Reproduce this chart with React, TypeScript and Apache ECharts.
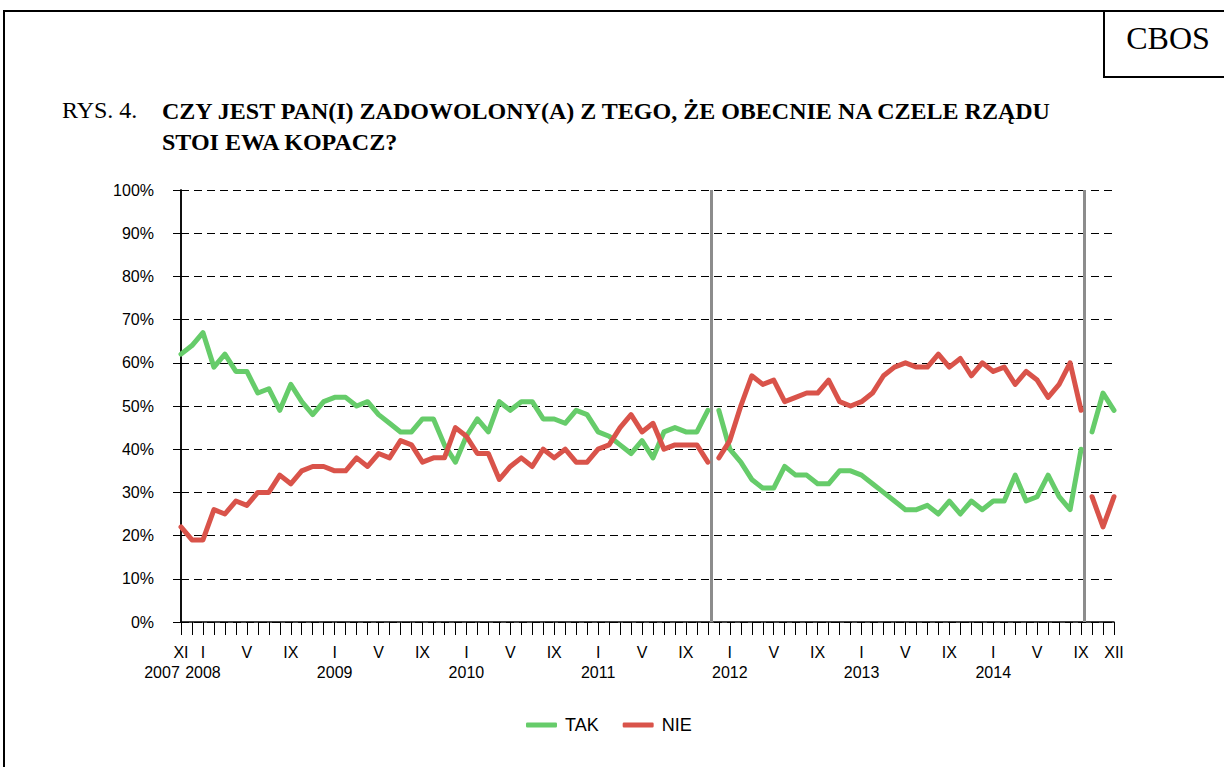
import React, { useEffect, useRef } from 'react';
import * as echarts from 'echarts';

// Monthly surveys, XI 2007 (index 0) ... XII 2014 (index 85)
const TAK = [
  62, 64, 67, 59, 62, 58, 58, 53, 54, 49, 55, 51, 48, 51, 52, 52, 50, 51, 48, 46,
  44, 44, 47, 47, 41, 37, 43, 47, 44, 51, 49, 51, 51, 47, 47, 46, 49, 48, 44, 43,
  41, 39, 42, 38, 44, 45, 44, 44, 49, 49, 40, 37, 33, 31, 31, 36, 34, 34, 32, 32,
  35, 35, 34, 32, 30, 28, 26, 26, 27, 25, 28, 25, 28, 26, 28, 28, 34, 28, 29, 34,
  29, 26, 40, 44, 53, 49,
];
const NIE = [
  22, 19, 19, 26, 25, 28, 27, 30, 30, 34, 32, 35, 36, 36, 35, 35, 38, 36, 39, 38,
  42, 41, 37, 38, 38, 45, 43, 39, 39, 33, 36, 38, 36, 40, 38, 40, 37, 37, 40, 41,
  45, 48, 44, 46, 40, 41, 41, 41, 37, 38, 42, 50, 57, 55, 56, 51, 52, 53, 53, 56,
  51, 50, 51, 53, 57, 59, 60, 59, 59, 62, 59, 61, 57, 60, 58, 59, 55, 58, 56, 52,
  55, 60, 49, 29, 22, 29,
];
// Government periods (first and last month index of each)
const segments = [
  [0, 48],
  [49, 82],
  [83, 85],
];
const separators = [48.35, 82.27];

const monthTickIdx = [0, 2, 6, 10, 14, 18, 22, 26, 30, 34, 38, 42, 46, 50, 54, 58, 62, 66, 70, 74, 78, 82, 85];
const monthTickLabels = ['XI', 'I', 'V', 'IX', 'I', 'V', 'IX', 'I', 'V', 'IX', 'I', 'V', 'IX', 'I', 'V', 'IX', 'I', 'V', 'IX', 'I', 'V', 'IX', 'XII'];
const yearTickIdx = [0, 2, 14, 26, 38, 50, 62, 74];
const yearTickLabels = ['2007', '2008', '2009', '2010', '2011', '2012', '2013', '2014'];

const seriesNames = ['TAK', 'NIE'];
const seriesValues = [TAK, NIE];
const seriesColors = ['#66CC6A', '#D9534A'];

const SANS = '"Liberation Sans", Arial, sans-serif';
const SERIF = '"Liberation Serif", "Times New Roman", serif';

export default function App() {
  const ref = useRef<HTMLDivElement>(null);
  useEffect(() => {
    if (!ref.current) return;
    const chart = echarts.init(ref.current, undefined, { renderer: 'svg' });

    const series: any[] = [];
    seriesNames.forEach((name, si) => {
      segments.forEach(([a, b], gi) => {
        const data: number[][] = [];
        for (let i = a; i <= b; i++) data.push([i, seriesValues[si][i]]);
        const s: any = {
          name,
          type: 'line',
          data,
          symbol: 'none',
          lineStyle: { width: 5, color: seriesColors[si], cap: 'round', join: 'round' },
          itemStyle: { color: seriesColors[si] },
          z: 3,
        };
        if (si === 0 && gi === 0) {
          s.markLine = {
            silent: true,
            symbol: ['none', 'none'],
            label: { show: false },
            lineStyle: { color: '#8c8c8c', width: 3, type: 'solid' },
            data: separators.map((x) => ({ xAxis: x })),
            z: 1,
          };
        }
        series.push(s);
      });
    });

    chart.setOption({
      animation: false,
      backgroundColor: '#fff',
      grid: { left: 181, right: 110, top: 190, bottom: 145 },
      xAxis: [
        {
          type: 'value',
          min: 0,
          max: 85,
          interval: 1,
          position: 'bottom',
          axisLine: { show: true, lineStyle: { color: '#000', width: 1.5 } },
          axisTick: { show: true, length: 13, lineStyle: { color: '#000', width: 1 } },
          splitLine: { show: false },
          axisLabel: {
            margin: 22,
            fontSize: 16,
            fontFamily: SANS,
            color: '#000',
            showMinLabel: true,
            showMaxLabel: true,
            formatter: (v: number) => {
              const k = monthTickIdx.indexOf(Math.round(v));
              return k >= 0 ? monthTickLabels[k] : '';
            },
          },
        },
        {
          type: 'value',
          min: 0,
          max: 85,
          interval: 1,
          position: 'bottom',
          offset: 0,
          axisLine: { show: false },
          axisTick: { show: false },
          splitLine: { show: false },
          axisLabel: {
            margin: 42,
            fontSize: 16,
            fontFamily: SANS,
            color: '#000',
            showMinLabel: true,
            showMaxLabel: true,
            formatter: (v: number) => {
              const k = yearTickIdx.indexOf(Math.round(v));
              if (k < 0) return '';
              return k === 0 ? '{first|' + yearTickLabels[k] + '}' : yearTickLabels[k];
            },
            rich: {
              first: { fontSize: 16, fontFamily: SANS, color: '#000', padding: [0, 38, 0, 0] },
            },
          },
        },
      ],
      yAxis: [
        {
          type: 'value',
          min: 0,
          max: 100,
          interval: 10,
          axisLine: { show: true, lineStyle: { color: '#000', width: 1.5 } },
          axisTick: { show: true, length: 8, lineStyle: { color: '#000' } },
          axisLabel: {
            margin: 27,
            fontSize: 16,
            fontFamily: SANS,
            color: '#000',
            formatter: '{value}%',
          },
          splitLine: { show: true, lineStyle: { color: '#000', width: 1, type: [8, 5] } },
        },
        {
          type: 'value',
          min: 0,
          max: 100,
          interval: 10,
          position: 'right',
          axisLine: { show: true, lineStyle: { color: '#000', width: 1.5 } },
          axisTick: { show: false },
          axisLabel: { show: false },
          splitLine: { show: false },
        },
      ],
      legend: {
        data: seriesNames,
        left: 521,
        top: 711,
        icon: 'roundRect',
        itemWidth: 31,
        itemHeight: 5,
        itemGap: 24,
        textStyle: { fontSize: 18, fontFamily: SANS, color: '#000', padding: [0, 0, 0, 3] },
      },
      graphic: [
        { type: 'line', shape: { x1: 3, y1: 11, x2: 1224, y2: 11 }, style: { stroke: '#000', lineWidth: 2 } },
        { type: 'line', shape: { x1: 4, y1: 10, x2: 4, y2: 767 }, style: { stroke: '#000', lineWidth: 2 } },
        { type: 'line', shape: { x1: 1104, y1: 10, x2: 1104, y2: 77 }, style: { stroke: '#000', lineWidth: 2 } },
        { type: 'line', shape: { x1: 1103, y1: 77, x2: 1224, y2: 77 }, style: { stroke: '#000', lineWidth: 2 } },
        {
          type: 'text',
          x: 1168,
          y: 38,
          style: { text: 'CBOS', font: '32px ' + SERIF, fill: '#000', align: 'center', verticalAlign: 'middle' },
        },
        {
          type: 'text',
          x: 62,
          y: 110,
          style: { text: 'RYS. 4.', font: '24px ' + SERIF, fill: '#000', align: 'left', verticalAlign: 'middle' },
        },
        {
          type: 'text',
          x: 162,
          y: 95,
          style: {
            text: 'CZY JEST PAN(I) ZADOWOLONY(A) Z TEGO, ŻE OBECNIE NA CZELE RZĄDU\nSTOI EWA KOPACZ?',
            font: 'bold 24px ' + SERIF,
            lineHeight: 31,
            fill: '#000',
            align: 'left',
            verticalAlign: 'top',
          },
        },
      ],
      series,
    });
    return () => chart.dispose();
  }, []);
  return (
    <div
      ref={ref}
      style={{ position: 'fixed', left: 0, top: 0, width: 1224, height: 767, background: '#fff' }}
    />
  );
}
